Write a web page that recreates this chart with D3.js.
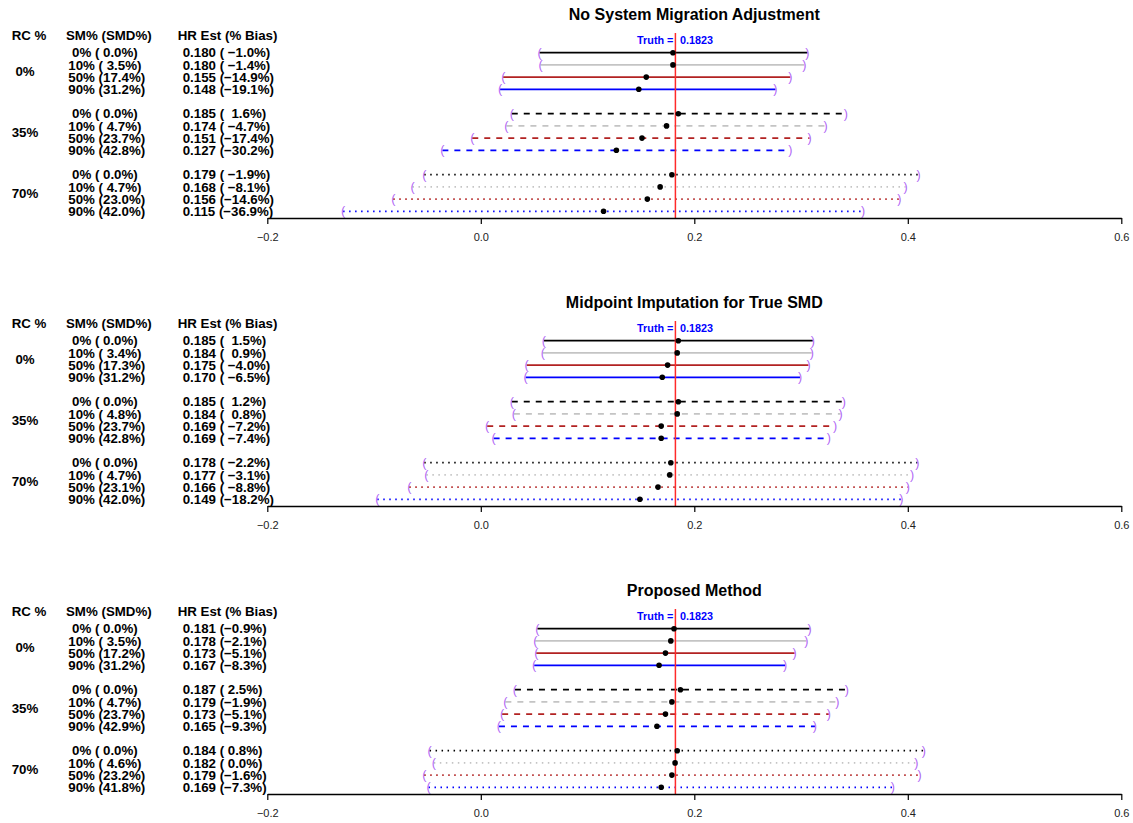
<!DOCTYPE html>
<html>
<head>
<meta charset="utf-8">
<script src="https://cdn.jsdelivr.net/npm/d3@7"></script>
<style>
  body { margin: 0; background: #fff; }
  svg text { font-family: "Liberation Sans", Arial, Helvetica, sans-serif; white-space: pre; }
</style>
</head>
<body>
<svg id="canvas" width="1133" height="823"></svg>
<script>
// panel titles
let titles = ['No System Migration Adjustment', 'Midpoint Imputation for True SMD', 'Proposed Method'];
let truth = 0.1823;

// row layout: 3 RC groups x 4 SM levels
let rcLabels = [' 0%', '35%', '70%'];
let smLevels = [0, 10, 50, 90];
let lineColors = ['black', '#c4c4c4', '#b22222', 'blue'];
let lineDash = [null, '6,6', '1.5,4.5'];
let xTicks = [-0.2, 0, 0.2, 0.4, 0.6];

// No System Migration Adjustment
let smd1 = [0.0, 3.5, 17.4, 31.2, 0.0, 4.7, 23.7, 42.8, 0.0, 4.7, 23.0, 42.0];
let est1 = [0.180, 0.180, 0.155, 0.148, 0.185, 0.174, 0.151, 0.127, 0.179, 0.168, 0.156, 0.115];
let bias1 = [-1.0, -1.4, -14.9, -19.1, 1.6, -4.7, -17.4, -30.2, -1.9, -8.1, -14.6, -36.9];
let lo1 = [0.055, 0.056, 0.021, 0.018, 0.029, 0.024, -0.008, -0.036, -0.053, -0.064, -0.082, -0.129];
let hi1 = [0.306, 0.303, 0.290, 0.276, 0.342, 0.323, 0.308, 0.290, 0.410, 0.398, 0.392, 0.358];

// Midpoint Imputation for True SMD
let smd2 = [0.0, 3.4, 17.3, 31.2, 0.0, 4.8, 23.7, 42.8, 0.0, 4.7, 23.1, 42.0];
let est2 = [0.185, 0.184, 0.175, 0.170, 0.185, 0.184, 0.169, 0.169, 0.178, 0.177, 0.166, 0.149];
let bias2 = [1.5, 0.9, -4.0, -6.5, 1.2, 0.8, -7.2, -7.4, -2.2, -3.1, -8.8, -18.2];
let lo2 = [0.059, 0.058, 0.043, 0.042, 0.029, 0.031, 0.006, 0.012, -0.053, -0.051, -0.067, -0.097];
let hi2 = [0.311, 0.310, 0.307, 0.299, 0.340, 0.337, 0.332, 0.326, 0.409, 0.404, 0.400, 0.394];

// Proposed Method
let smd3 = [0.0, 3.5, 17.2, 31.2, 0.0, 4.7, 23.7, 42.9, 0.0, 4.6, 23.2, 41.8];
let est3 = [0.181, 0.178, 0.173, 0.167, 0.187, 0.179, 0.173, 0.165, 0.184, 0.182, 0.179, 0.169];
let bias3 = [-0.9, -2.1, -5.1, -8.3, 2.5, -1.9, -5.1, -9.3, 0.8, 0.0, -1.6, -7.3];
let lo3 = [0.053, 0.051, 0.052, 0.050, 0.032, 0.023, 0.020, 0.017, -0.048, -0.044, -0.053, -0.049];
let hi3 = [0.308, 0.305, 0.294, 0.285, 0.343, 0.334, 0.326, 0.313, 0.415, 0.408, 0.411, 0.386];

let panels = [
    {title: titles[0], smd: smd1, est: est1, bias: bias1, lo: lo1, hi: hi1, padW: 5},
    {title: titles[1], smd: smd2, est: est2, bias: bias2, lo: lo2, hi: hi2, padW: 5},
    {title: titles[2], smd: smd3, est: est3, bias: bias3, lo: lo3, hi: hi3, padW: 4}
];

let canvas = d3.select('#canvas');

let x = d3.scaleLinear().domain([-0.2, 0.6]).range([267.3, 1121.3]);
// row index -> y inside one panel (gap of one row between groups)
let y = d3.scaleLinear().domain([0, 13]).range([52.7, 211.3]);
let axisY = 218;
let panelStep = 288;
let tableFont = '13.3px';

let pad = (s, w) => s.length >= w ? s : ' '.repeat(w - s.length) + s;
let fmtNum = (v) => v.toFixed(1).replace('-', '\u2212');

panels.forEach((p, pi) => {
    let g = canvas.append('g').attr('transform', `translate(0,${pi * panelStep})`);

    let rows = p.est.map((e, i) => {
        let grp = Math.floor(i / 4), k = i % 4;
        return {
            row: grp * 5 + k, grp: grp, k: k,
            est: e, lo: p.lo[i], hi: p.hi[i],
            smLab: `${pad(String(smLevels[k]), 2)}% (${pad(p.smd[i].toFixed(1), 4)}%)`,
            hrLab: `${e.toFixed(3)} (${pad(fmtNum(p.bias[i]), p.padW)}%)`
        };
    });

    // title
    g.append('text')
        .attr('x', (x(-0.2) + x(0.6)) / 2)
        .attr('y', 14)
        .attr('dy', '0.35em')
        .attr('text-anchor', 'middle')
        .style('font-size', '16px')
        .style('font-weight', 'bold')
        .text(p.title);

    // column headers
    let headers = [{t: 'RC %', x: 11.7}, {t: 'SM% (SMD%)', x: 66}, {t: 'HR Est (% Bias)', x: 177.7}];
    g.selectAll('text.hdr')
        .data(headers)
        .enter()
        .append('text')
        .classed('hdr', true)
        .attr('x', d => d.x)
        .attr('y', 35.5)
        .attr('dy', '0.35em')
        .style('font-size', tableFont)
        .style('font-weight', 'bold')
        .text(d => d.t);

    // RC group labels
    g.selectAll('text.rc')
        .data(rcLabels)
        .enter()
        .append('text')
        .classed('rc', true)
        .attr('x', 11.7)
        .attr('y', (d, i) => (y(i * 5) + y(i * 5 + 3)) / 2)
        .attr('dy', '0.35em')
        .style('font-size', tableFont)
        .style('font-weight', 'bold')
        .text(d => d);

    g.selectAll('text.sm')
        .data(rows)
        .enter()
        .append('text')
        .classed('sm', true)
        .attr('x', 68.3)
        .attr('y', d => y(d.row))
        .attr('dy', '0.35em')
        .style('font-size', tableFont)
        .style('font-weight', 'bold')
        .text(d => d.smLab);

    g.selectAll('text.hr')
        .data(rows)
        .enter()
        .append('text')
        .classed('hr', true)
        .attr('x', 182.7)
        .attr('y', d => y(d.row))
        .attr('dy', '0.35em')
        .style('font-size', tableFont)
        .style('font-weight', 'bold')
        .text(d => d.hrLab);

    // CI lines
    g.selectAll('line.ci')
        .data(rows)
        .enter()
        .append('line')
        .classed('ci', true)
        .attr('x1', d => x(d.lo))
        .attr('x2', d => x(d.hi))
        .attr('y1', d => y(d.row))
        .attr('y2', d => y(d.row))
        .attr('stroke', d => lineColors[d.k])
        .attr('stroke-width', 1.8)
        .attr('stroke-dasharray', d => lineDash[d.grp]);

    // CI end brackets
    let ends = [];
    rows.forEach(d => {
        ends.push({v: d.lo, row: d.row, t: '('});
        ends.push({v: d.hi, row: d.row, t: ')'});
    });
    g.selectAll('text.br')
        .data(ends)
        .enter()
        .append('text')
        .classed('br', true)
        .attr('x', d => x(d.v))
        .attr('y', d => y(d.row))
        .attr('dy', '0.33em')
        .attr('text-anchor', 'middle')
        .style('font-size', '12.5px')
        .attr('fill', '#b066f5')
        .text(d => d.t);

    // truth line
    g.append('line')
        .attr('x1', x(truth)).attr('x2', x(truth))
        .attr('y1', 33).attr('y2', axisY)
        .attr('stroke', '#ff2a2a')
        .attr('stroke-width', 1.5);

    // point estimates
    g.selectAll('circle.est')
        .data(rows)
        .enter()
        .append('circle')
        .classed('est', true)
        .attr('cx', d => x(d.est))
        .attr('cy', d => y(d.row))
        .attr('r', 2.8)
        .attr('fill', 'black');

    g.append('text')
        .attr('x', x(truth) - 2)
        .attr('y', 40)
        .attr('dy', '0.35em')
        .attr('text-anchor', 'end')
        .attr('fill', 'blue')
        .style('font-size', '10.8px')
        .style('font-weight', 'bold')
        .text('Truth =');
    g.append('text')
        .attr('x', x(truth) + 4.5)
        .attr('y', 40)
        .attr('dy', '0.35em')
        .attr('fill', 'blue')
        .style('font-size', '10.8px')
        .style('font-weight', 'bold')
        .text(truth.toFixed(4));

    // x axis
    let ax = g.append('g')
        .attr('transform', `translate(0,${axisY})`)
        .call(d3.axisBottom(x)
            .tickValues(xTicks)
            .tickFormat(d3.format('.1f'))
            .tickSize(6)
            .tickSizeOuter(0)
            .tickPadding(9));
    ax.attr('font-family', null).attr('font-size', null);
    ax.select('.domain').attr('stroke-width', 1.5);
    ax.selectAll('.tick line').attr('stroke-width', 1.2);
    ax.selectAll('.tick text')
        .style('font-size', '11px')
        .attr('fill', '#222');
});
</script>
</body>
</html>
